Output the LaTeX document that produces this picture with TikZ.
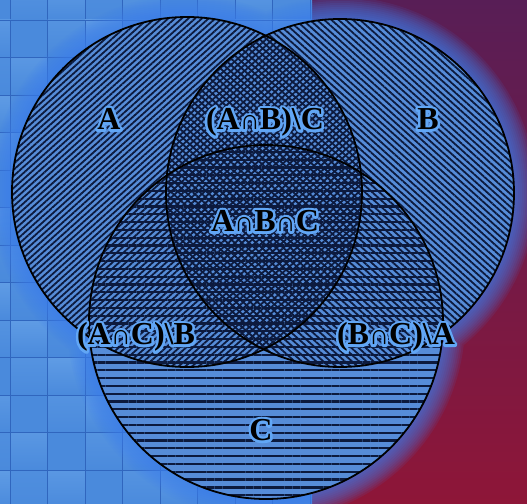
\documentclass[tikz,border=0pt]{standalone}
\usepackage{fontspec}
\setmainfont{Liberation Serif}
\usetikzlibrary{patterns.meta}
\definecolor{tileA}{RGB}{74,138,220}
\definecolor{tileB}{RGB}{118,175,238}
\definecolor{tileline}{RGB}{48,102,190}
\definecolor{redtop}{RGB}{88,30,86}
\definecolor{redbot}{RGB}{142,22,56}
\definecolor{glowc}{RGB}{62,128,238}
\definecolor{fillc}{RGB}{86,140,216}
\definecolor{hatch}{RGB}{12,26,62}
\newcommand\capsym{{\fontsize{28}{28}\selectfont ∩}}
% halo: stroked copy of the text (render mode 1), then the filled black text on top
\newcommand\halostroke[1]{\special{pdf:literal direct 1 Tr 1 j 5 w 0.38 0.65 0.96 RG}#1\special{pdf:literal direct 0 Tr}}
\newcommand\vennlabel[3]{%
  \node[lbl] at (#2) {\halostroke{#3}};
  \node[lbl] (#1) at (#2) {#3};}
\begin{document}
\begin{tikzpicture}[x=1pt,y=-1pt,
  lbl/.style={font=\fontsize{32}{34}\selectfont\bfseries,text=black,inner sep=0pt},
  outline/.style={draw=black,line width=1.8pt},
  hatchA/.style={pattern={Lines[angle=42,distance=4.5pt,line width=1.8pt]},pattern color=hatch},
  hatchB/.style={pattern={Lines[angle=-42,distance=4.8pt,line width=1.8pt]},pattern color=hatch},
  hatchC/.style={pattern={Lines[angle=0,distance=7.8pt,line width=2.2pt]},pattern color=hatch}]
\useasboundingbox (0,0) rectangle (527,503);
\coordinate (A) at (187,192);
\coordinate (B) at (340,193);
\coordinate (C) at (266,322);
\begin{scope}
\clip (0,0) rectangle (527,503);
% red background
\shade[top color=redtop,bottom color=redbot] (0,0) rectangle (527,503);
% tiles
\begin{scope}
\clip (0,0) rectangle (312,503);
\foreach \i in {0,...,9}{
  \foreach \j in {0,...,14}{
    \pgfmathsetmacro\shadeamt{int(mod(\i*7+\j*3,5))*12}
    \shade[top color=tileB!\shadeamt!tileA,bottom color=tileA,draw=tileline,line width=0.8pt]
      ({-27.5+37.5*\i},{-17.5+37.5*\j}) rectangle ++(37.5,37.5);
  }}
\end{scope}
% soft glow around the circles
\foreach \w in {44,40,...,4}{
  \draw[glowc,line width=\w pt,opacity=0.1] (A) circle[radius=175pt] (B) circle[radius=174pt] (C) circle[radius=177pt];
}
% circle bodies
\fill[fillc] (A) circle[radius=175pt];
\fill[fillc] (B) circle[radius=174pt];
\fill[fillc] (C) circle[radius=177pt];
\fill[hatchA] (A) circle[radius=175pt];
\fill[hatchB] (B) circle[radius=174pt];
\fill[hatchC] (C) circle[radius=177pt];
\draw[outline] (A) circle[radius=175pt];
\draw[outline] (B) circle[radius=174pt];
\draw[outline] (C) circle[radius=177pt];
\end{scope}
% labels
\vennlabel{la}{109,119}{A}
\vennlabel{lb}{428,119}{B}
\vennlabel{lab}{265,122}{(A\capsym B)\textbackslash C}
\vennlabel{labc}{265,221}{A\capsym B\capsym C}
\vennlabel{lac}{136,337}{(A\capsym C)\textbackslash B}
\vennlabel{lbc}{396,337}{(B\capsym C)\textbackslash A}
\vennlabel{lc}{261,430}{C}
\end{tikzpicture}
\end{document}
